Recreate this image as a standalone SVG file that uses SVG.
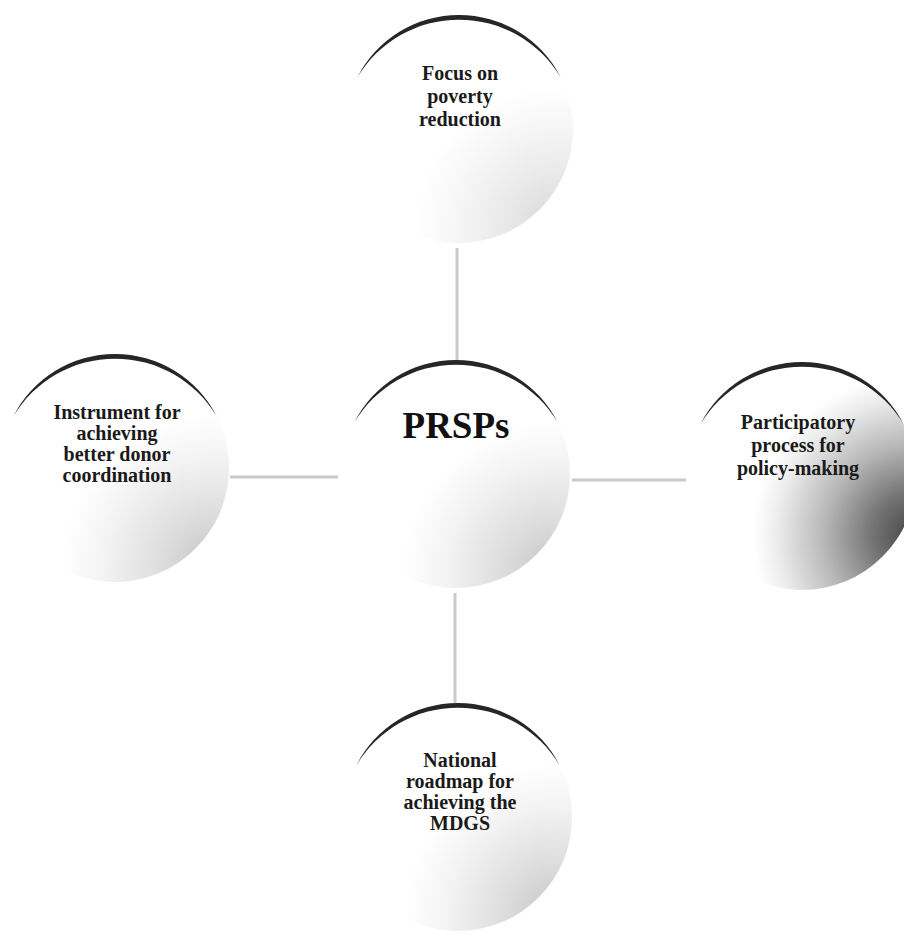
<svg xmlns="http://www.w3.org/2000/svg" width="904" height="934" viewBox="0 0 904 934">
<style>
.lbl{font-family:"Liberation Serif","Times New Roman",serif;font-weight:bold;font-size:20px;fill:#1a1a1a;text-anchor:middle}
.big{font-family:"Liberation Serif","Times New Roman",serif;font-weight:bold;font-size:37px;fill:#111;text-anchor:middle}
.arc{fill:#262626}
.conn{stroke:#cacaca;stroke-width:3;fill:none}
</style>
<defs>
<radialGradient id="shade" cx="0.94" cy="0.94" r="0.75">
<stop offset="0" stop-color="#c2c2c2"/>
<stop offset="0.3" stop-color="#dcdcdc"/>
<stop offset="0.65" stop-color="#f3f3f3"/>
<stop offset="0.9" stop-color="#ffffff"/>
</radialGradient>
<radialGradient id="shadeLight" cx="0.94" cy="0.94" r="0.7">
<stop offset="0" stop-color="#d6d6d6"/>
<stop offset="0.35" stop-color="#e9e9e9"/>
<stop offset="0.7" stop-color="#f8f8f8"/>
<stop offset="0.9" stop-color="#ffffff"/>
</radialGradient>
<radialGradient id="shadeDark" gradientUnits="userSpaceOnUse" cx="915" cy="535" r="190">
<stop offset="0" stop-color="#444444"/>
<stop offset="0.22" stop-color="#737373"/>
<stop offset="0.48" stop-color="#b8b8b8"/>
<stop offset="0.72" stop-color="#ebebeb"/>
<stop offset="0.85" stop-color="#ffffff"/>
</radialGradient>
</defs>
<rect width="904" height="934" fill="#ffffff"/>
<g id="connectors">
<line class="conn" x1="457" y1="248" x2="457" y2="360"/>
<line class="conn" x1="455" y1="593" x2="455" y2="705"/>
<line class="conn" x1="230" y1="477" x2="338" y2="477"/>
<line class="conn" x1="572" y1="480" x2="686" y2="480"/>
</g>
<g id="node-top">
<circle cx="459" cy="129" r="114" fill="url(#shadeLight)"/>
<path class="arc" d="M357.4,77.2 A114,114 0 0 1 560.6,77.2 A118.5,118.5 0 0 0 357.4,77.2 Z"/>
<text class="lbl" x="460" y="80">Focus on</text>
<text class="lbl" x="460" y="103">poverty</text>
<text class="lbl" x="460" y="126">reduction</text>
</g>
<g id="node-center">
<circle cx="456" cy="474" r="114" fill="url(#shade)"/>
<path class="arc" d="M354.4,422.2 A114,114 0 0 1 557.6,422.2 A118.5,118.5 0 0 0 354.4,422.2 Z"/>
<text class="big" x="456" y="438">PRSPs</text>
</g>
<g id="node-left">
<circle cx="115" cy="468" r="114" fill="url(#shade)"/>
<path class="arc" d="M13.4,416.2 A114,114 0 0 1 216.6,416.2 A118.5,118.5 0 0 0 13.4,416.2 Z"/>
<text class="lbl" x="117" y="419">Instrument for</text>
<text class="lbl" x="117" y="440">achieving</text>
<text class="lbl" x="117" y="461">better donor</text>
<text class="lbl" x="117" y="482">coordination</text>
</g>
<g id="node-right">
<circle cx="802" cy="476" r="114" fill="url(#shadeDark)"/>
<path class="arc" d="M700.4,424.2 A114,114 0 0 1 903.6,424.2 A118.5,118.5 0 0 0 700.4,424.2 Z"/>
<text class="lbl" x="798" y="429">Participatory</text>
<text class="lbl" x="798" y="452">process for</text>
<text class="lbl" x="798" y="475">policy-making</text>
</g>
<g id="node-bottom">
<circle cx="458" cy="817" r="114" fill="url(#shade)"/>
<path class="arc" d="M356.4,765.2 A114,114 0 0 1 559.6,765.2 A118.5,118.5 0 0 0 356.4,765.2 Z"/>
<text class="lbl" x="460" y="767">National</text>
<text class="lbl" x="460" y="788">roadmap for</text>
<text class="lbl" x="460" y="809">achieving the</text>
<text class="lbl" x="460" y="830">MDGS</text>
</g>
</svg>
